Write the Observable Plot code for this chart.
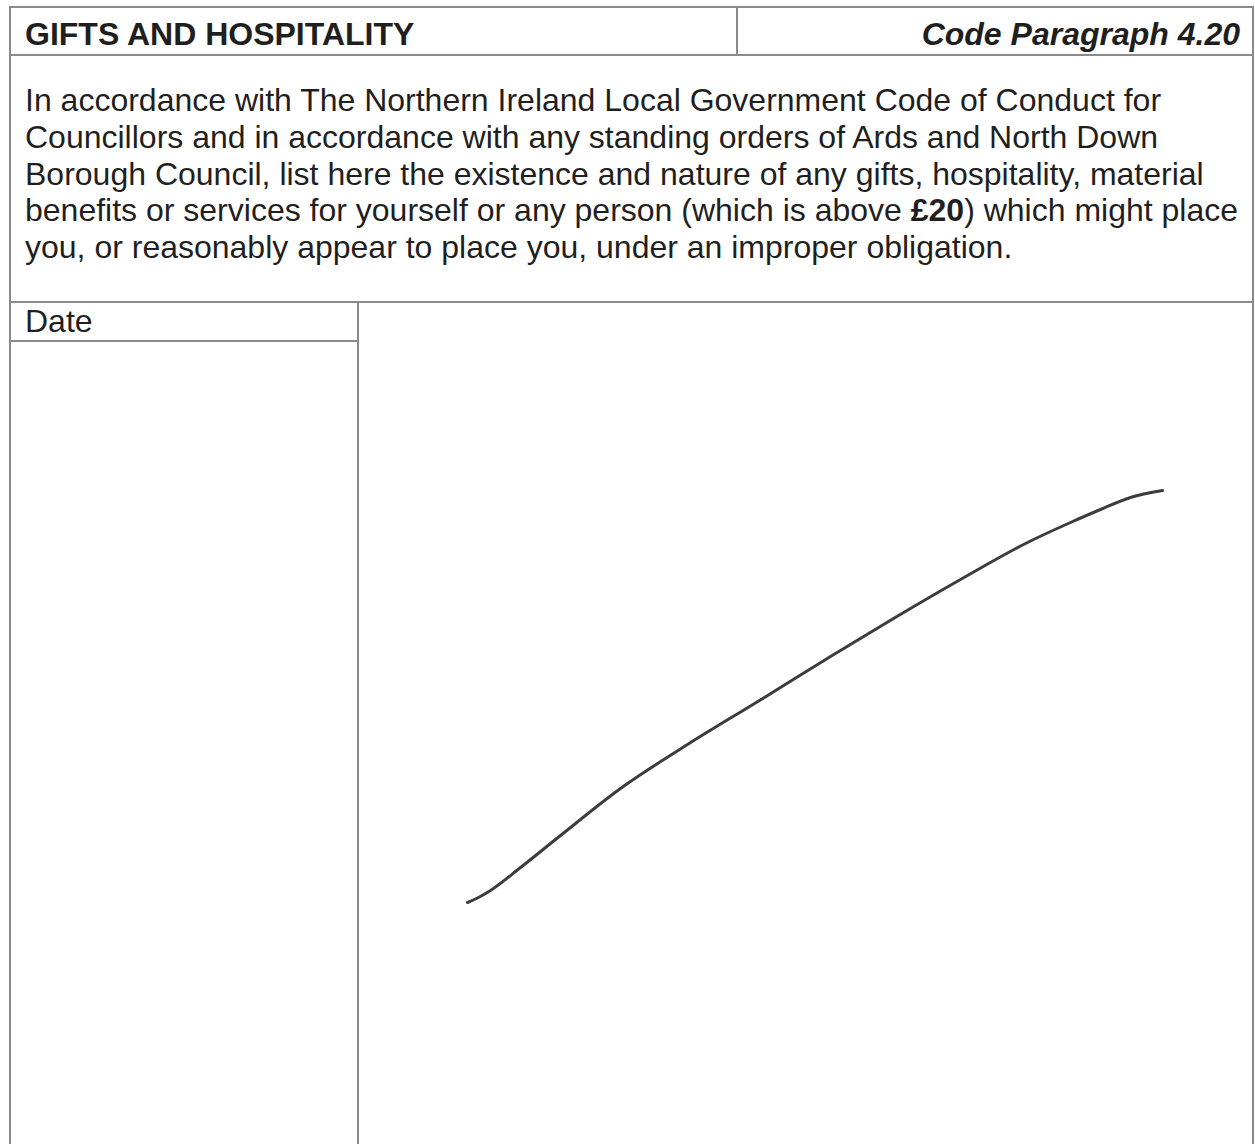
<!DOCTYPE html>
<html>
<head>
<meta charset="utf-8">
<script src="https://cdn.jsdelivr.net/npm/d3@7"></script>
<script src="https://cdn.jsdelivr.net/npm/@observablehq/plot@0.6"></script>
<style>
  html, body { margin: 0; padding: 0; background: #fff; }
  #page { position: relative; width: 1255px; height: 1144px; overflow: hidden; background: #fff;
          font-family: "Liberation Sans", Arial, sans-serif; color: #1f1f1f; }
  .box { position: absolute; box-sizing: border-box; border: 0 solid #8a8a8a; }
  .txt { position: absolute; white-space: nowrap; font-size: 32px; line-height: 32px; }
  #plot { position: absolute; left: 359px; top: 303px; }
  #plot svg { display: block; }
</style>
</head>
<body>
<div id="page"></div>
<script>
// ---- form text ----
const headerTitle = "GIFTS AND HOSPITALITY";
const headerCode = "Code Paragraph 4.20";
const bodyLines = [
  "In accordance with The Northern Ireland Local Government Code of Conduct for",
  "Councillors and in accordance with any standing orders of Ards and North Down",
  "Borough Council, list here the existence and nature of any gifts, hospitality, material",
  "benefits or services for yourself or any person (which is above <b>£20</b>) which might place",
  "you, or reasonably appear to place you, under an improper obligation."
];
const columnLabel = "Date";

// ---- pen stroke (page coordinates) ----
const strokeX = [467, 476, 490, 520, 560, 620, 687, 759, 830, 893, 960, 1027, 1070, 1100, 1130, 1162];
const strokeY = [902, 898, 890, 867, 835, 788, 744, 700, 656, 618, 579, 542, 522, 509, 497, 490];

const page = document.getElementById("page");
function el(cls, css, html) {
  const d = document.createElement("div");
  d.className = cls;
  Object.assign(d.style, css);
  if (html !== undefined) d.innerHTML = html;
  page.appendChild(d);
  return d;
}

// header row
el("box", {left: "9px", top: "6px", width: "1245px", height: "50px", borderWidth: "2px"});
el("box", {left: "736px", top: "6px", width: "2px", height: "50px", borderLeftWidth: "2px"});
el("txt", {left: "25px", top: "18px", fontWeight: "bold"}, headerTitle);
el("txt", {right: "15px", top: "18px", fontWeight: "bold", fontStyle: "italic"}, headerCode);

// description row
el("box", {left: "9px", top: "54px", width: "1245px", height: "249px", borderWidth: "0 2px 2px 2px"});
el("txt", {left: "25px", top: "82px", lineHeight: "36.75px"}, bodyLines.join("<br>"));

// lower section borders
el("box", {left: "9px", top: "301px", width: "1245px", height: "843px", borderWidth: "0 2px 0 2px"});
el("box", {left: "357px", top: "301px", width: "2px", height: "843px", borderLeftWidth: "2px"});
el("box", {left: "9px", top: "340px", width: "350px", height: "2px", borderTopWidth: "2px"});
el("txt", {left: "25px", top: "305px"}, columnLabel);

// signature stroke drawn with Plot
const holder = document.createElement("div");
holder.id = "plot";
page.appendChild(holder);
const pts = strokeX.map((x, i) => ({x, y: strokeY[i]}));
const chart = Plot.plot({
  width: 893,
  height: 841,
  margin: 0,
  x: {domain: [359, 1252], range: [0, 893], axis: null},
  y: {domain: [303, 1144], range: [0, 841], axis: null},
  marks: [
    Plot.line(pts, {x: "x", y: "y", curve: "monotone-x", stroke: "#3c3c3c", strokeWidth: 3, strokeLinecap: "round", strokeLinejoin: "round"})
  ]
});
holder.appendChild(chart);
</script>
</body>
</html>
